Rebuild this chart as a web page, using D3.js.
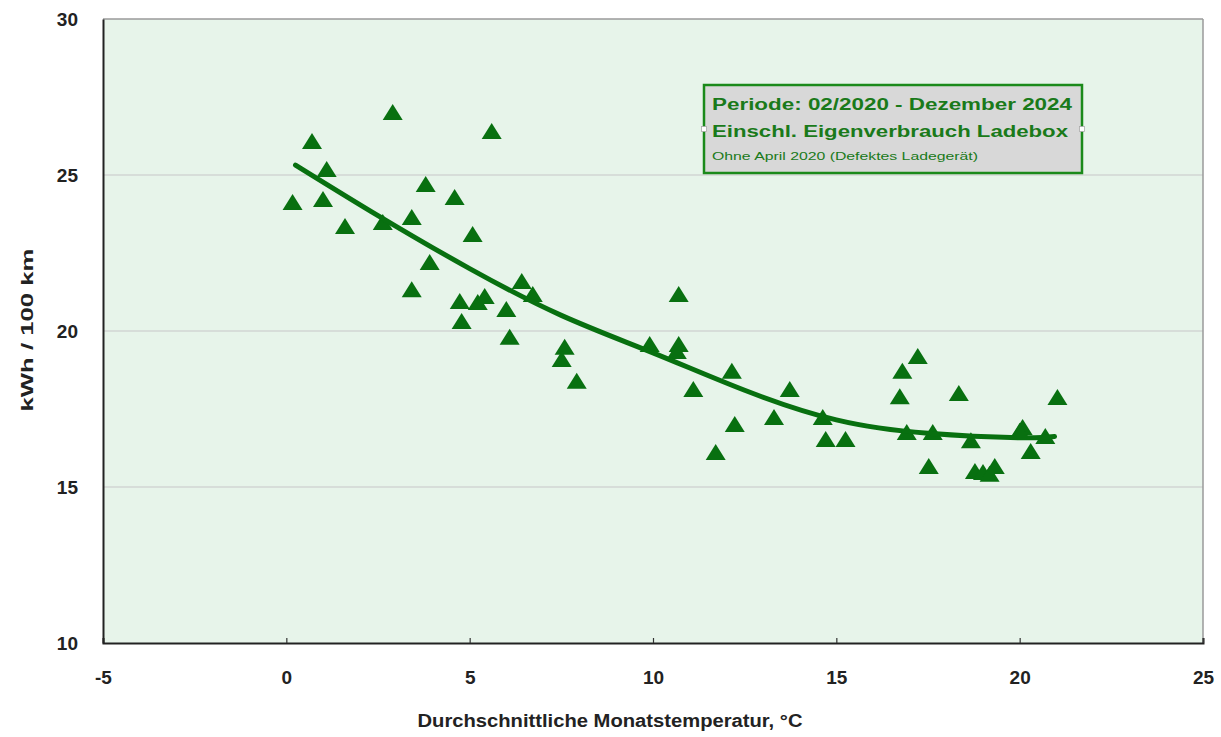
<!DOCTYPE html>
<html><head><meta charset="utf-8">
<script src="https://cdn.jsdelivr.net/npm/d3@7"></script>
<style>body{margin:0;background:#fff}svg{display:block}text{font-family:"Liberation Sans",Arial,sans-serif}</style>
</head><body><svg id="c" width="1221" height="737"></svg>
<script>
const temps = [0.17,0.7,1.1,1.0,1.6,2.63,2.9,3.42,3.42,3.8,3.91,4.59,5.08,4.73,4.78,5.22,5.41,5.6,6.0,6.09,6.42,6.72,7.59,7.51,7.92,9.91,10.7,10.7,10.65,11.1,11.71,12.15,12.23,13.3,13.73,14.63,14.71,15.25,17.22,16.8,16.73,16.92,17.63,17.52,18.34,18.67,18.78,19.0,19.18,19.32,20.08,20.0,20.3,20.7,21.03];
const kwh   = [24.1,26.06,25.16,24.2,23.33,23.46,26.99,23.62,21.31,24.68,22.18,24.26,23.08,20.93,20.29,20.9,21.09,26.38,20.67,19.78,21.57,21.15,19.46,19.07,18.37,19.55,21.15,19.55,19.33,18.11,16.09,18.69,16.99,17.21,18.11,17.21,16.51,16.51,19.17,18.69,17.88,16.73,16.73,15.64,17.98,16.47,15.48,15.45,15.39,15.64,16.89,16.77,16.12,16.6,17.85];
const trendX = [0.25,2.5,5,7.5,10,12.5,15,17.5,20,20.95];
const trendY = [25.32,23.7,22.0,20.5,19.3,18.1,17.15,16.72,16.58,16.62];
const xTicks = [-5,0,5,10,15,20,25];
const yTicks = [10,15,20,25,30];
const gridLines = [15,20,25];
const boxLines = ["Periode: 02/2020 - Dezember 2024","Einschl. Eigenverbrauch Ladebox","Ohne April 2020 (Defektes Ladegerät)"];
const xTitle = "Durchschnittliche Monatstemperatur, °C";
const yTitle = "kWh / 100 km";

const svg = d3.select("#c");
const L=103,R=1203,T=19,B=643;
const x = d3.scaleLinear().domain([-5,25]).range([L,R]);
const y = d3.scaleLinear().domain([10,30]).range([B,T]);
const green = "#087010";

svg.append("rect").attr("x",L).attr("y",T).attr("width",R-L).attr("height",B-T).attr("fill","#e7f4ea");
svg.selectAll(".g").data(gridLines).join("line").attr("x1",L).attr("x2",R).attr("y1",d=>y(d)).attr("y2",d=>y(d)).attr("stroke","#d2d6d3").attr("stroke-width",1.5);
svg.append("line").attr("x1",L).attr("x2",R).attr("y1",T).attr("y2",T).attr("stroke","#9a9a9a").attr("stroke-width",1.5);
svg.append("line").attr("x1",R).attr("x2",R).attr("y1",T).attr("y2",B).attr("stroke","#9a9a9a").attr("stroke-width",1.5);

const fmt = d => String(d);
const xa = svg.append("g").attr("transform",`translate(0,${B})`).call(d3.axisBottom(x).tickValues(xTicks).tickFormat(fmt).tickSize(-5).tickPadding(28));
const ya = svg.append("g").attr("transform",`translate(${L},0)`).call(d3.axisLeft(y).tickValues(yTicks).tickFormat(fmt).tickSize(0).tickPadding(25));
[xa,ya].forEach(a=>{a.attr("font-size",null);a.select(".domain").attr("stroke","#222").attr("stroke-width",2);a.selectAll(".tick line").attr("stroke","#333").attr("stroke-width",1.2);a.selectAll("text").style("font-size","19px").style("font-weight","bold").attr("fill","#222").style("font-family","'Liberation Sans',Arial,sans-serif");});
ya.selectAll(".tick text").attr("dy","0.34em");

svg.append("text").attr("x",610).attr("y",727).attr("text-anchor","middle").attr("font-size",17.5).attr("font-weight","bold").attr("fill","#222").attr("textLength",385).attr("lengthAdjust","spacingAndGlyphs").text(xTitle);
svg.append("text").attr("transform",`translate(33,330) rotate(-90)`).attr("text-anchor","middle").attr("font-size",17).attr("font-weight","bold").attr("fill","#222").attr("textLength",163).attr("lengthAdjust","spacingAndGlyphs").text(yTitle);

const tri = "M0,-9L10,7L-10,7Z";
svg.selectAll(".p").data(temps.map((t,i)=>[t,kwh[i]])).join("path").attr("d",tri).attr("transform",d=>`translate(${x(d[0])},${y(d[1])})`).attr("fill",green);

const line = d3.line().x(d=>x(d[0])).y(d=>y(d[1])).curve(d3.curveNatural);
svg.append("path").datum(trendX.map((t,i)=>[t,trendY[i]])).attr("d",line).attr("fill","none").attr("stroke",green).attr("stroke-width",5).attr("stroke-linecap","round");

const bx=704,by=85,bw=378,bh=88;
svg.append("rect").attr("x",bx).attr("y",by).attr("width",bw).attr("height",bh).attr("fill","#d8d8d8").attr("stroke","#1a8a1a").attr("stroke-width",2.5);
const specs=[{y:110,fs:16,w:360,fw:"bold"},{y:137,fs:16,w:356,fw:"bold"},{y:160,fs:11,w:266,fw:"normal"}];
boxLines.forEach((s,i)=>{svg.append("text").attr("x",712).attr("y",specs[i].y).attr("font-size",specs[i].fs).attr("font-weight",specs[i].fw).attr("fill","#1a7a1a").attr("textLength",specs[i].w).attr("lengthAdjust","spacingAndGlyphs").text(s);});
[bx,bx+bw].forEach(hx=>svg.append("rect").attr("x",hx-2.5).attr("y",by+bh/2-2.5).attr("width",5).attr("height",5).attr("fill","#fff").attr("stroke","#aaa").attr("stroke-width",0.8));
</script></body></html>
